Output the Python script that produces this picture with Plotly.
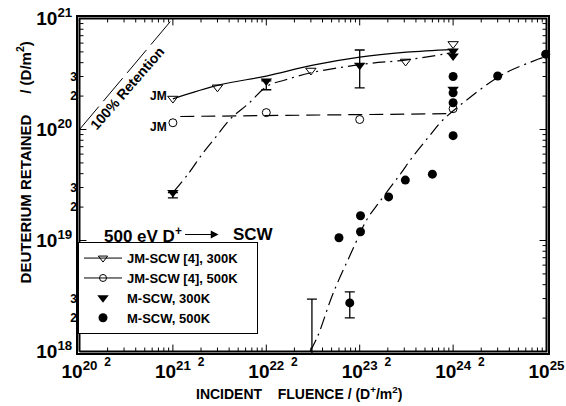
import plotly.graph_objects as go

FONT = "Liberation Sans, Arial, Helvetica, sans-serif"

# ---------------- data ----------------
jm300_x = [1e21, 3.0e21, 3.0e22, 3.1e23, 1e24]
jm300_y = [1.9e20, 2.4e20, 3.4e20, 4.1e20, 5.9e20]

jm500_x = [1e21, 1e22, 1e23, 1e24]
jm500_y = [1.15e20, 1.42e20, 1.23e20, 1.54e20]

m300_x = [1e21, 1e22, 1e23, 1e24, 1e24, 1e24]
m300_y = [2.7e19, 2.74e20, 3.8e20, 5.1e20, 4.6e20, 2.3e20]
m300_err_x = [1e21, 1e22, 1e23]
m300_err_y = [2.7e19, 2.74e20, 3.8e20]
m300_err_hi = [2.7e19, 2.74e20, 5.2e20]
m300_err_lo = [2.42e19, 2.28e20, 2.37e20]

m500_x = [6.0e22, 1.02e23, 1.02e23, 2.04e23, 3.08e23, 6.0e23,
          1e24, 1e24, 1e24, 1e24, 3.0e24, 9.8e24, 7.83e22]
m500_y = [1.06e19, 1.67e19, 1.2e19, 2.47e19, 3.5e19, 3.96e19,
          3.0e20, 2.14e20, 1.74e20, 8.8e19, 3.03e20, 4.77e20, 2.74e18]
m500_err_x = [7.83e22, 3.08e22]
m500_err_y = [2.74e18, 8.0e17]
m500_err_hi = [3.44e18, 2.97e18]
m500_err_lo = [2.01e18, 8.0e17]

# fitted guide curves
fit_jm300_x = [1e21, 3.16e21, 1e22, 3.16e22, 1e23, 3.16e23, 1e24]
fit_jm300_y = [1.89e20, 2.52e20, 3.03e20, 3.80e20, 4.49e20, 4.97e20, 5.28e20]

fit_jm500_x = [1.2e21, 3.5e22, 1e24]
fit_jm500_y = [1.31e20, 1.35e20, 1.39e20]

fit_m300_x = [1.02e21, 1.48e21, 2.09e21, 2.86e21, 4.14e21, 6.44e21, 1.03e22,
              1.58e22, 2.94e22, 6.61e22, 1.37e23, 3.08e23, 8.02e23, 1.02e24]
fit_m300_y = [2.75e19, 4.05e19, 6.11e19, 8.49e19, 1.25e20, 1.71e20, 2.47e20,
              2.79e20, 3.23e20, 3.65e20, 3.96e20, 4.22e20, 4.78e20, 4.97e20]

fit_m500_x = [2.94e22, 3.57e22, 5.16e22, 8.43e22, 1.19e23, 1.63e23, 2.67e23,
              3.66e23, 5.42e23, 7.64e23, 1.37e24, 3.32e24, 8.22e24, 1e25]
fit_m500_y = [1.0e18, 1.39e18, 3.30e18, 8.32e18, 1.54e19, 2.23e19, 3.88e19,
              5.62e19, 8.49e19, 1.20e20, 1.82e20, 3.10e20, 4.31e20, 4.57e20]

retention_x = [1e20, 1e21]
retention_y = [1e20, 1e21]

legend_names = ["<b>JM-SCW [4], 300K</b>\u00a0\u00a0\u00a0\u00a0", "<b>JM-SCW [4], 500K</b>",
                "<b>M-SCW, 300K</b>", "<b>M-SCW, 500K</b>"]

# tick labels: decades (large) on the main axes, 2/3 marks (small) on overlay axes
x_decade_vals = [1e20, 1e21, 1e22, 1e23, 1e24, 1e25]
x_decade_text = ["<b>10<sup>20</sup></b>", "<b>10<sup>21</sup></b>", "<b>10<sup>22</sup></b>",
                 "<b>10<sup>23</sup></b>", "<b>10<sup>24</sup></b>", "<b>10<sup>25</sup></b>"]
x_minor_vals = [2e20, 3e20, 4e20, 5e20, 6e20, 7e20, 8e20, 9e20,
                2e21, 3e21, 4e21, 5e21, 6e21, 7e21, 8e21, 9e21,
                2e22, 3e22, 4e22, 5e22, 6e22, 7e22, 8e22, 9e22,
                2e23, 3e23, 4e23, 5e23, 6e23, 7e23, 8e23, 9e23,
                2e24, 3e24, 4e24, 5e24, 6e24, 7e24, 8e24, 9e24]
x_minor_text = ["<b>2</b>", "", "", "", "", "", "", "",
                "<b>2</b>", "", "", "", "", "", "", "",
                "<b>2</b>", "", "", "", "", "", "", "",
                "<b>2</b>", "", "", "", "", "", "", "",
                "<b>2</b>", "", "", "", "", "", "", ""]
y_decade_vals = [1e18, 1e19, 1e20, 1e21]
y_decade_text = ["<b>10<sup>18</sup></b>", "<b>10<sup>19</sup></b>",
                 "<b>10<sup>20</sup></b>", "<b>10<sup>21</sup></b>"]
y_minor_vals = [2e18, 3e18, 4e18, 5e18, 6e18, 7e18, 8e18, 9e18,
                2e19, 3e19, 4e19, 5e19, 6e19, 7e19, 8e19, 9e19,
                2e20, 3e20, 4e20, 5e20, 6e20, 7e20, 8e20, 9e20]
y_minor_text = ["<b>2</b>", "<b>3</b>", "", "", "", "", "", "",
                "<b>2</b>", "<b>3</b>", "", "", "", "", "", "",
                "<b>2</b>", "<b>3</b>", "", "", "", "", "", ""]

X_LO, X_HI = 1e20, 1e25
Y_LO, Y_HI = 1e18, 1e21

PLOT_W, PLOT_H = 566 - 78 - 18, 406 - 17 - 53
X_DEC_PX = PLOT_W / 5.0
Y_DEC_PX = PLOT_H / 3.0
# 1.5 px of padding so the frame sits just inside the drawable area
X_RANGE = [20 - 1.5 / X_DEC_PX, 25 + 1.5 / X_DEC_PX]
Y_RANGE = [18 - 1.5 / Y_DEC_PX, 21 + 1.5 / Y_DEC_PX]
MAJOR_LEN, MINOR_LEN = 7, 4

# ---------------- figure ----------------
fig = go.Figure()
LW = 1.2

fig.add_trace(go.Scatter(x=retention_x, y=retention_y, mode="lines", showlegend=False,
                         line=dict(color="black", width=1, dash="30px,7px")))

fig.add_trace(go.Scatter(x=fit_jm300_x, y=fit_jm300_y, mode="lines", showlegend=False,
                         line=dict(color="black", width=LW, shape="spline")))
fig.add_trace(go.Scatter(x=fit_jm500_x, y=fit_jm500_y, mode="lines", showlegend=False,
                         line=dict(color="black", width=LW, dash="14px,7px")))
fig.add_trace(go.Scatter(x=fit_m300_x, y=fit_m300_y, mode="lines", showlegend=False,
                         line=dict(color="black", width=LW, dash="13px,5px,2px,5px", shape="spline")))
fig.add_trace(go.Scatter(x=fit_m500_x, y=fit_m500_y, mode="lines", showlegend=False,
                         line=dict(color="black", width=LW, dash="13px,5px,2px,5px", shape="spline")))

fig.add_trace(go.Scatter(
    x=m300_err_x, y=m300_err_y, mode="markers", showlegend=False,
    marker=dict(size=8, opacity=0),
    error_y=dict(type="data", symmetric=False,
                 array=[h - v for h, v in zip(m300_err_hi, m300_err_y)],
                 arrayminus=[v - l for l, v in zip(m300_err_lo, m300_err_y)],
                 color="black", thickness=1.3, width=5)))
fig.add_trace(go.Scatter(
    x=m500_err_x, y=m500_err_y, mode="markers", showlegend=False,
    marker=dict(size=8, opacity=0),
    error_y=dict(type="data", symmetric=False,
                 array=[h - v for h, v in zip(m500_err_hi, m500_err_y)],
                 arrayminus=[v - l for l, v in zip(m500_err_lo, m500_err_y)],
                 color="black", thickness=1.3, width=5)))

# ---- frame and inside ticks ----
def tick_segments(vals, length_px, axis):
    xs, ys = [], []
    for v in vals:
        if axis == "x":
            f = 10 ** (length_px / Y_DEC_PX)
            xs += [v, v, None, v, v, None]
            ys += [Y_LO, Y_LO * f, None, Y_HI, Y_HI / f, None]
        else:
            f = 10 ** (length_px / X_DEC_PX)
            xs += [X_LO, X_LO * f, None, X_HI, X_HI / f, None]
            ys += [v, v, None, v, v, None]
    return xs, ys

for vals, ln, ax in [(x_decade_vals, MAJOR_LEN, "x"), (x_minor_vals, MINOR_LEN, "x"),
                     (y_decade_vals, MAJOR_LEN, "y"), (y_minor_vals, MINOR_LEN, "y")]:
    tx, ty = tick_segments(vals, ln, ax)
    fig.add_trace(go.Scatter(x=tx, y=ty, mode="lines", showlegend=False, hoverinfo="skip",
                             line=dict(color="black", width=1)))

fig.add_trace(go.Scatter(x=[X_LO, X_HI, X_HI, X_LO, X_LO], y=[Y_LO, Y_LO, Y_HI, Y_HI, Y_LO],
                         mode="lines", showlegend=False, hoverinfo="skip",
                         line=dict(color="black", width=2)))

# ---- data markers ----
fig.add_trace(go.Scatter(x=jm300_x, y=jm300_y, mode="markers", showlegend=False,
                         marker=dict(symbol="triangle-down-open", size=9, color="black",
                                     line=dict(width=1, color="black"))))
fig.add_trace(go.Scatter(x=jm500_x, y=jm500_y, mode="markers", showlegend=False,
                         marker=dict(symbol="circle-open", size=8, color="black",
                                     line=dict(width=1, color="black"))))
fig.add_trace(go.Scatter(x=m300_x, y=m300_y, mode="markers", showlegend=False,
                         marker=dict(symbol="triangle-down", size=10, color="black")))
fig.add_trace(go.Scatter(x=m500_x, y=m500_y, mode="markers", showlegend=False, cliponaxis=False,
                         marker=dict(symbol="circle", size=9, color="black")))

fig.add_trace(go.Scatter(x=[None], y=[None], mode="lines+markers", name=legend_names[0],
                         line=dict(color="black", width=1),
                         marker=dict(symbol="triangle-down-open", size=8, color="black",
                                     line=dict(width=1, color="black"))))
fig.add_trace(go.Scatter(x=[None], y=[None], mode="lines+markers", name=legend_names[1],
                         line=dict(color="black", width=1),
                         marker=dict(symbol="circle-open", size=7, color="black",
                                     line=dict(width=1, color="black"))))
fig.add_trace(go.Scatter(x=[None], y=[None], mode="markers", name=legend_names[2],
                         marker=dict(symbol="triangle-down", size=10, color="black")))
fig.add_trace(go.Scatter(x=[None], y=[None], mode="markers", name=legend_names[3],
                         marker=dict(symbol="circle", size=9, color="black")))

main_axis = dict(
    type="log", showgrid=False, zeroline=False, automargin=False,
    showline=True, linecolor="#000000", linewidth=2, mirror=True,
    ticks="", tickmode="array", tickangle=0, ticklabeloverflow="allow",
    tickfont=dict(family=FONT, size=19, color="black"),
)
over_axis = dict(
    type="log", showgrid=False, zeroline=False, showline=False, automargin=False,
    ticks="", tickmode="array", tickangle=0, ticklabeloverflow="allow",
    tickfont=dict(family=FONT, size=12, color="black"),
)

fig.update_layout(
    template="none",
    xaxis=dict(**main_axis, range=X_RANGE, tickvals=x_decade_vals, ticktext=x_decade_text),
    yaxis=dict(**main_axis, range=Y_RANGE, tickvals=y_decade_vals, ticktext=y_decade_text),
    xaxis2=dict(**over_axis, range=X_RANGE, overlaying="x", side="bottom", anchor="y",
                tickvals=x_minor_vals, ticktext=x_minor_text),
    yaxis2=dict(**over_axis, range=Y_RANGE, overlaying="y", side="left", anchor="x",
                tickvals=y_minor_vals, ticktext=y_minor_text),
)
fig.add_trace(go.Scatter(x=[None], y=[None], xaxis="x2", yaxis="y2", showlegend=False, hoverinfo="skip"))

annotations = [
    dict(text="<b>DEUTERIUM RETAINED\u00a0\u00a0\u00a0\u00a0\u00a0/ (D/m<sup>2</sup>)</b>", xref="paper", yref="paper",
         x=-0.115, y=0.567, xanchor="center", yanchor="middle", textangle=-90,
         showarrow=False, font=dict(family=FONT, size=15, color="black")),
    dict(text="<b>INCIDENT\u00a0\u00a0\u00a0\u00a0FLUENCE / (D<sup>+</sup>/m<sup>2</sup>)</b>", xref="paper", yref="paper",
         x=0.470, y=-0.119, xanchor="center", yanchor="middle",
         showarrow=False, font=dict(family=FONT, size=14, color="black")),
    dict(text="<b>100% Retention</b>", xref="x", yref="y", x=20.511, y=20.375, textangle=-49,
         showarrow=False, font=dict(family=FONT, size=14, color="black")),
    dict(text="<b>JM</b>", xref="x", yref="y", x=20.96, y=20.304, xanchor="right",
         showarrow=False, font=dict(family=FONT, size=12, color="black")),
    dict(text="<b>JM</b>", xref="x", yref="y", x=20.96, y=20.027, xanchor="right",
         showarrow=False, font=dict(family=FONT, size=12, color="black")),
    dict(text="<b>500 eV D<sup>+</sup></b>", xref="x", yref="y", x=21.117, y=19.054, xanchor="right",
         showarrow=False, font=dict(family=FONT, size=17, color="black")),
    dict(text="<b>SCW</b>", xref="x", yref="y", x=21.617, y=19.054, xanchor="left",
         showarrow=False, font=dict(family=FONT, size=17, color="black")),
    dict(text="", xref="x", yref="y", x=21.489, y=19.054, ax=-35, ay=0,
         showarrow=True, arrowhead=2, arrowsize=1.3, arrowwidth=1.2, arrowcolor="black"),
]

fig.update_layout(
    width=566, height=406,
    margin=dict(l=78, r=18, t=17, b=53),
    paper_bgcolor="white", plot_bgcolor="white",
    font=dict(family=FONT, color="black"),
    showlegend=True,
    legend=dict(x=0, y=0.33, xanchor="left", yanchor="top",
                bordercolor="black", borderwidth=1, bgcolor="white",
                font=dict(family=FONT, size=13, color="black"), tracegroupgap=0, itemwidth=38),
    annotations=annotations,
)

fig.write_html("out.html")
